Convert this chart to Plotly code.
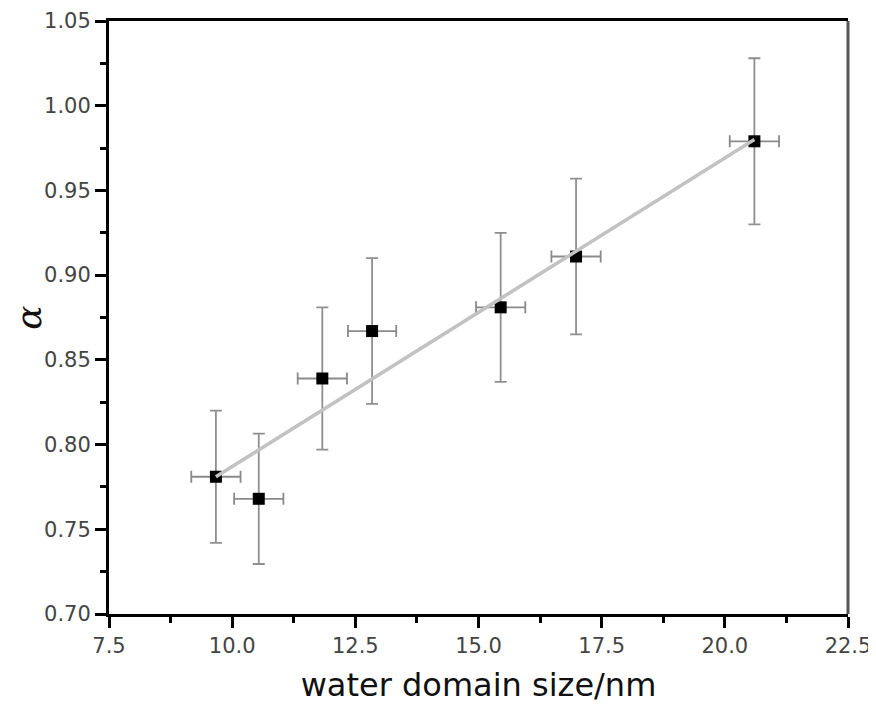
import plotly.graph_objects as go

# Data
size_nm = [9.67, 10.54, 11.83, 12.84, 15.45, 16.98, 20.60]
alpha = [0.781, 0.768, 0.839, 0.867, 0.881, 0.911, 0.979]
alpha_err = [0.039, 0.0385, 0.042, 0.043, 0.044, 0.046, 0.049]
size_err = [0.50, 0.50, 0.50, 0.49, 0.50, 0.50, 0.50]

# Linear fit line end points (as drawn in the reference)
fit_x = [9.67, 20.60]
fit_y = [0.781, 0.980]

x_ticks = [7.5, 10.0, 12.5, 15.0, 17.5, 20.0, 22.5]
y_ticks = [0.70, 0.75, 0.80, 0.85, 0.90, 0.95, 1.00, 1.05]

fig = go.Figure()

fig.add_trace(go.Scatter(
    x=size_nm, y=alpha, mode="markers",
    marker=dict(symbol="square", size=12, color="black"),
    error_y=dict(type="data", array=alpha_err, visible=True,
                 color="#8f8f8f", thickness=1.8, width=6),
    error_x=dict(type="data", array=size_err, visible=True,
                 color="#8a8a8a", thickness=1.8, width=6),
    showlegend=False,
))

fig.add_trace(go.Scatter(
    x=fit_x, y=fit_y, mode="lines",
    line=dict(color="#c2c2c2", width=3.5),
    showlegend=False,
))

tickfont = dict(family="DejaVu Sans", size=21, color="#444444")

fig.update_layout(
    width=876, height=715,
    margin=dict(l=101, r=36, t=13, b=109),
    paper_bgcolor="white", plot_bgcolor="white",
    xaxis=dict(
        range=[7.5, 22.5], tickvals=x_ticks, tickformat=".1f",
        automargin=False,
        showgrid=False, zeroline=False,
        showline=True, linecolor="black", linewidth=3, mirror=True,
        ticks="outside", ticklen=11, tickwidth=3, tickcolor="black",
        minor=dict(ticks="outside", ticklen=6, tickwidth=2.5,
                   tickcolor="black", dtick=1.25, tick0=7.5, showgrid=False),
        tickfont=tickfont,
        title=dict(text="water domain size/nm",
                   font=dict(family="DejaVu Sans", size=32, color="#111"),
                   standoff=17),
    ),
    yaxis=dict(
        range=[0.70, 1.05], tickvals=y_ticks, tickformat=".2f",
        automargin=False,
        showgrid=False, zeroline=False,
        showline=True, linecolor="black", linewidth=3, mirror=False,
        ticks="outside", ticklen=11, tickwidth=3, tickcolor="black",
        minor=dict(ticks="outside", ticklen=6, tickwidth=2.5,
                   tickcolor="black", dtick=0.025, tick0=0.70, showgrid=False),
        tickfont=tickfont,
        title=dict(text="<i>α</i>",
                   font=dict(family="DejaVu Serif", size=36, color="#111"),
                   standoff=14),
    ),
    shapes=[dict(type="line", xref="paper", yref="paper",
                 x0=1, x1=1, y0=0, y1=1,
                 line=dict(color="#555555", width=3))],
)

fig.write_html("out.html")
